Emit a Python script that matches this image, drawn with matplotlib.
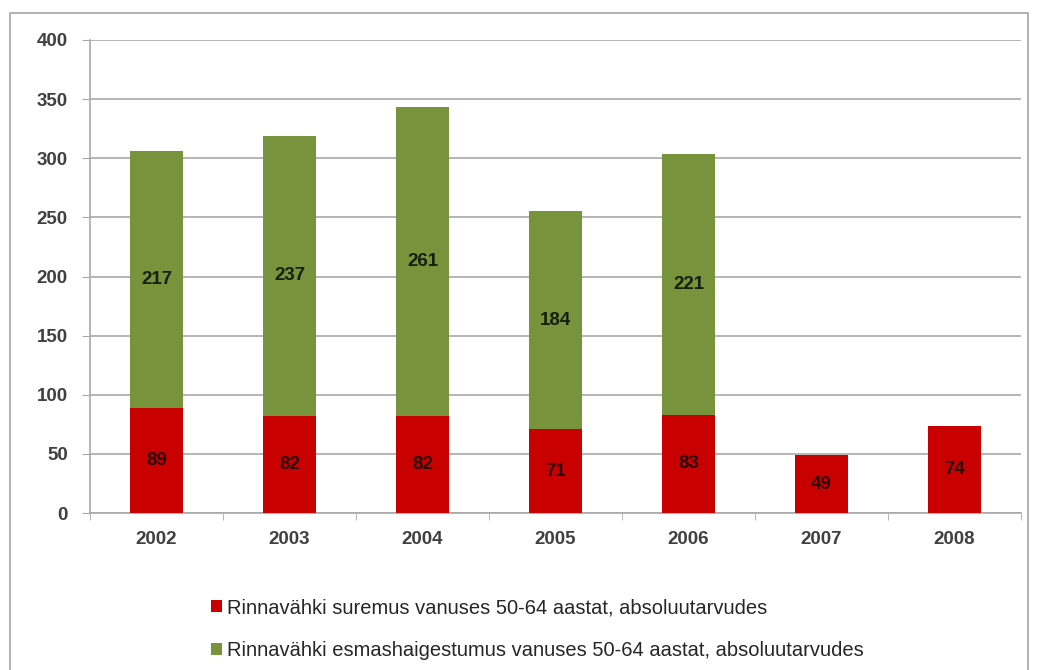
import matplotlib
matplotlib.use("Agg")
import matplotlib.pyplot as plt
from matplotlib.patches import Rectangle
import numpy as np

# andmed
years = ["2002", "2003", "2004", "2005", "2006", "2007", "2008"]
suremus = [89, 82, 82, 71, 83, 49, 74]
esmas = [217, 237, 261, 184, 221, None, None]

label_suremus = "Rinnavähki suremus vanuses 50-64 aastat, absoluutarvudes"
label_esmas = "Rinnavähki esmashaigestumus vanuses 50-64 aastat, absoluutarvudes"

red = "#C80000"
green = "#77933C"

plt.rcParams['font.family'] = ['Liberation Sans Narrow', 'Liberation Sans', 'DejaVu Sans']

fig = plt.figure(figsize=(10.38, 6.70), dpi=100)
ax = fig.add_axes([0.0867, 0.2343, 0.8969, 0.706])

# raam ümber graafiku
fig.patches.append(Rectangle((10 / 1038, -0.05), 1018 / 1038, 1 - 13 / 670 + 0.05,
                             transform=fig.transFigure, fill=False,
                             edgecolor="#A6A6A6", linewidth=1.2))

x = np.arange(len(years))
w = 0.4
b1 = ax.bar(x, suremus, w, color=red, label=label_suremus, zorder=3)

# esmashaigestumus ainult aastatel, kus andmed olemas
idx = [i for i, v in enumerate(esmas) if v is not None]
b2 = ax.bar(x[idx], [esmas[i] for i in idx], w, bottom=[suremus[i] for i in idx],
            color=green, label=label_esmas, zorder=3)

for i in range(len(years)):
    ax.text(x[i], suremus[i] / 2, str(suremus[i]), ha="center", va="center",
            fontsize=13.5, fontweight="bold", color="#2a0808", zorder=4)
    if esmas[i] is not None:
        ax.text(x[i], suremus[i] + esmas[i] / 2, str(esmas[i]), ha="center", va="center",
                fontsize=13.5, fontweight="bold", color="#14200c", zorder=4)

ax.set_xlim(-0.5, len(years) - 0.5)
ax.set_ylim(0, 400)
ax.set_yticks(range(0, 401, 50))
ax.yaxis.grid(True, color="#A8A8A8", linewidth=1.2, zorder=0)
ax.set_xticks(x)
ax.set_xticklabels(years)
ax.set_xticks(np.arange(-0.5, len(years), 1), minor=True)
ax.tick_params(axis="x", which="major", length=0, pad=13)
ax.tick_params(axis="x", which="minor", length=5, color="#A8A8A8")
ax.tick_params(axis="y", length=6, color="#A8A8A8", pad=10)
for lab in ax.get_xticklabels() + ax.get_yticklabels():
    lab.set_fontsize(13.5)
    lab.set_fontweight("bold")
    lab.set_color("#404040")

for s in ["top", "right"]:
    ax.spines[s].set_visible(False)
ax.spines["left"].set_color("#A8A8A8")
ax.spines["bottom"].set_color("#A8A8A8")
ax.spines["left"].set_linewidth(1.2)
ax.spines["bottom"].set_linewidth(1.2)

leg = fig.legend(handles=[b1, b2], loc="upper left", bbox_to_anchor=(193 / 1038, 1 - 580 / 670),
                 frameon=False, fontsize=14.5, handlelength=0.55, handleheight=0.55,
                 handletextpad=0.25, labelspacing=1.2)
for t in leg.get_texts():
    t.set_color("#262626")

fig.savefig("out.png", dpi=100)
